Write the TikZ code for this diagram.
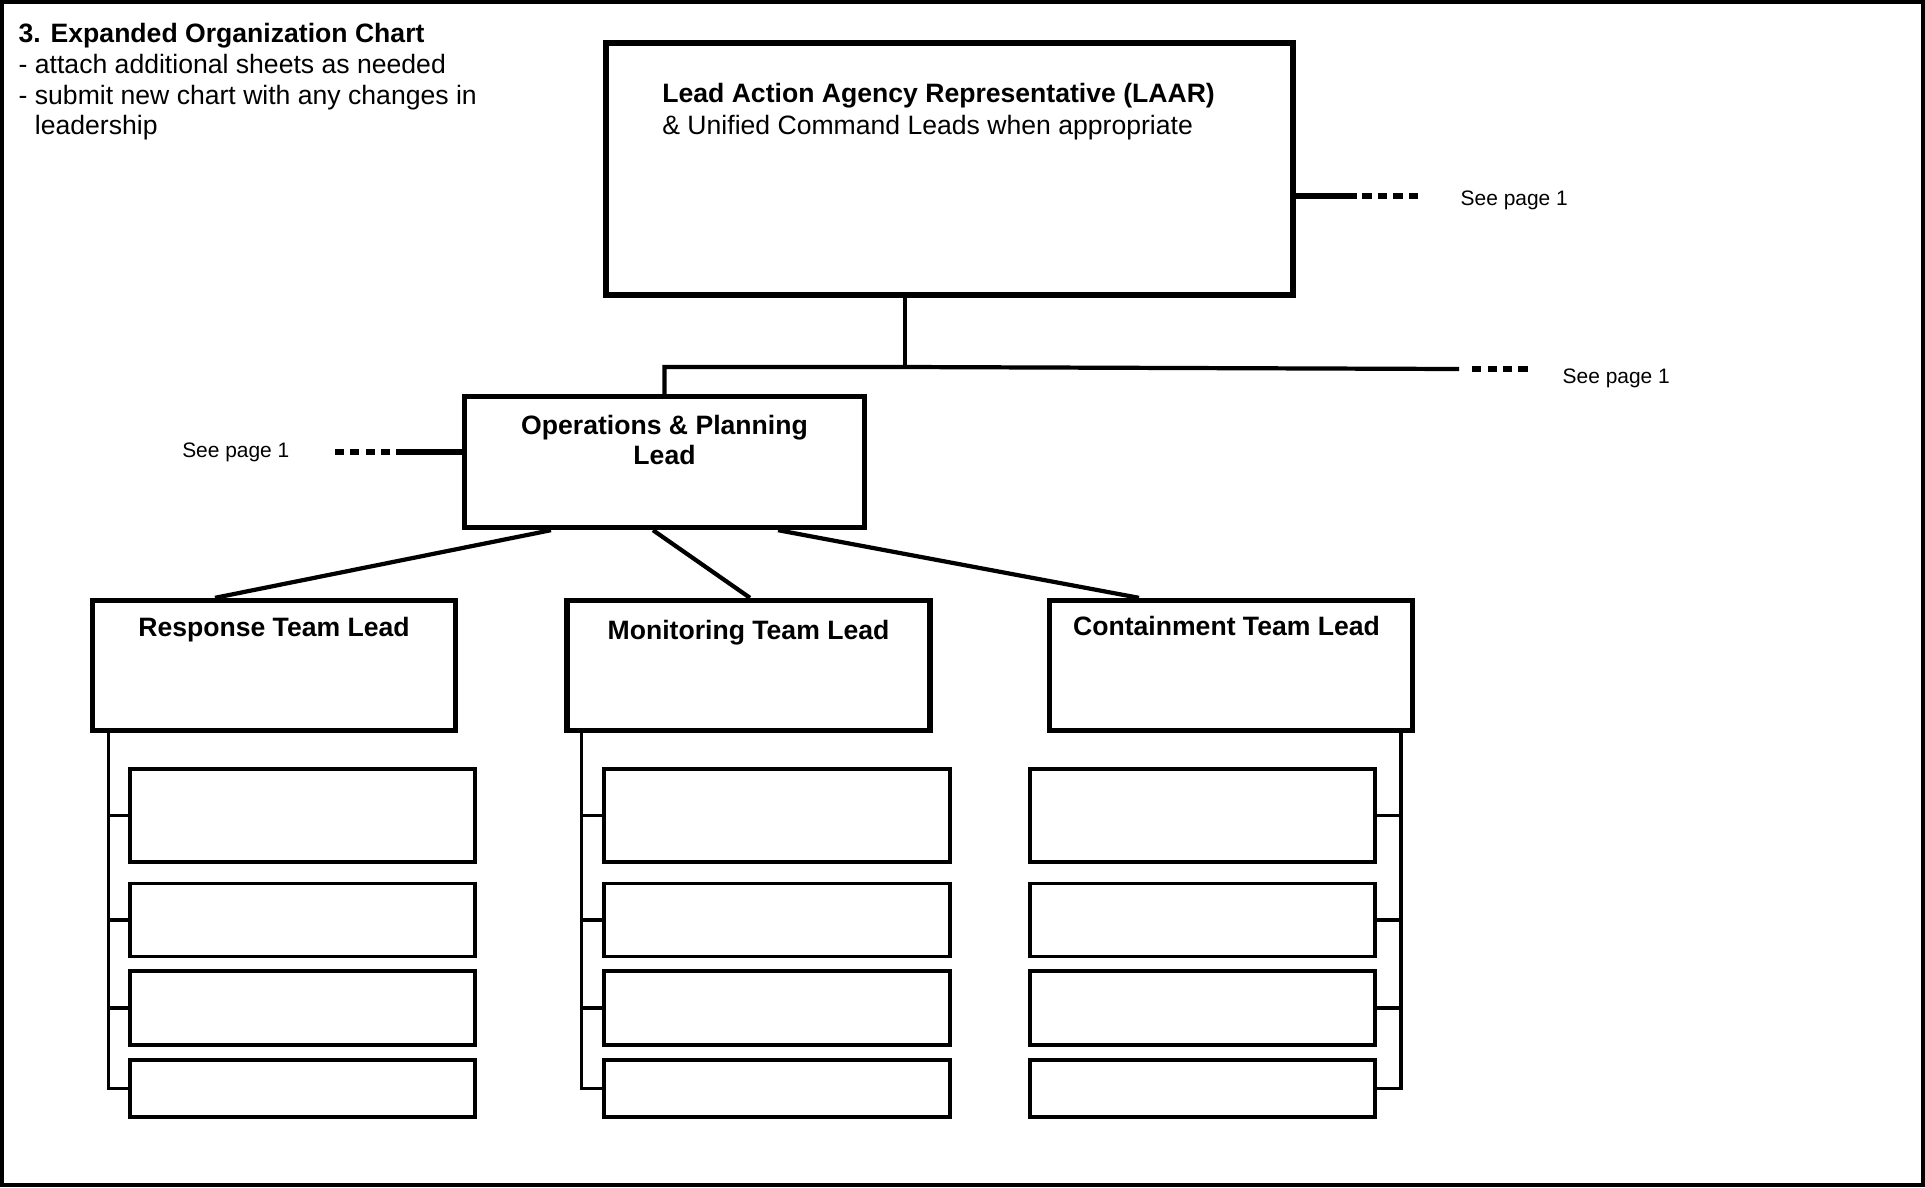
\documentclass[tikz,border=0pt]{standalone}
\usepackage{fontspec}
\setmainfont{Liberation Sans}
\usetikzlibrary{positioning, calc}

\begin{document}
\begin{tikzpicture}[
      x=0.01cm, y=-0.01cm,
      every node/.style={inner sep=0pt, font=\fontsize{7.56}{8.7}\selectfont},
      topbox/.style={draw, line width=1.8pt},
      leadbox/.style={draw, line width=1.5pt, minimum width=3.63cm, minimum height=1.30cm},
      subbox/.style={draw, line width=1.1pt, minimum width=3.455cm},
      conn/.style={line width=1.2pt},
      spine/.style={line width=1.0pt},
      dotline/.style={line width=1.7pt, dash pattern=on 2.6pt off 1.8pt},
      seetxt/.style={font=\fontsize{5.95}{7}\selectfont}
    ]
      \useasboundingbox (0,0) rectangle (1925,1187);
      \draw[line width=1.1pt] (2,2) rectangle (1923,1185);

      \node[anchor=north west, align=left] (title) at (18,23) {%
        \textbf{3. Expanded Organization Chart}\\
        - attach additional sheets as needed\\
        - submit new chart with any changes in\\
        \phantom{- }leadership};

      \node[topbox, minimum width=6.87cm, minimum height=2.515cm] (laar) at (949.5,169) {};
      \node[anchor=north west, align=left, font=\fontsize{7.56}{9.1}\selectfont] (laartxt)
        at ([xshift=0.59cm, yshift=-0.425cm]laar.north west)
        {\textbf{Lead Action Agency Representative (LAAR)}\\
         \& Unified Command Leads when appropriate};

      \node[topbox, line width=1.5pt, minimum width=4.0cm, minimum height=1.31cm] (ops) at (664.5,462) {};
      \node[anchor=north, align=center] (opstxt) at ([yshift=-0.205cm]ops.north)
        {\textbf{Operations \& Planning}\\ \textbf{Lead}};

      \node[leadbox] (resp) at (274,665.5) {};
      \node[leadbox] (mon) at (748.5,665.5) {};
      \node[leadbox] (cont) at (1231,665.5) {};
      \node[anchor=north] (resptxt) at ([yshift=-0.185cm]resp.north) {\textbf{Response Team Lead}};
      \node[anchor=north] (montxt) at ([yshift=-0.215cm]mon.north) {\textbf{Monitoring Team Lead}};
      \node[anchor=north] (conttxt) at ([xshift=-0.045cm, yshift=-0.175cm]cont.north) {\textbf{Containment Team Lead}};

      \node[subbox, minimum height=0.93cm] (r1) at (302.5,815.5) {};
      \node[subbox, minimum height=0.73cm] (r2) at (302.5,920) {};
      \node[subbox, minimum height=0.74cm] (r3) at (302.5,1008) {};
      \node[subbox, minimum height=0.57cm] (r4) at (302.5,1088.5) {};
      \node[subbox, minimum height=0.93cm] (m1) at (777,815.5) {};
      \node[subbox, minimum height=0.73cm] (m2) at (777,920) {};
      \node[subbox, minimum height=0.74cm] (m3) at (777,1008) {};
      \node[subbox, minimum height=0.57cm] (m4) at (777,1088.5) {};
      \node[subbox, minimum height=0.93cm] (c1) at (1202.5,815.5) {};
      \node[subbox, minimum height=0.73cm] (c2) at (1202.5,920) {};
      \node[subbox, minimum height=0.74cm] (c3) at (1202.5,1008) {};
      \node[subbox, minimum height=0.57cm] (c4) at (1202.5,1088.5) {};

      \node[seetxt, anchor=west] (see1) at (1460,200) {See page 1};
      \node[seetxt, anchor=west] (see2) at (1562,378) {See page 1};
      \node[seetxt, anchor=east] (see3) at (290,452) {See page 1};

      \draw[line width=1.9pt] ([yshift=-0.27cm]laar.east) -- ++(0.61cm,0) coordinate (lr);
      \draw[dotline] ([xshift=0.05cm]lr) -- ++(0.555cm,0);

      \coordinate (bus) at (905,367);
      \coordinate (busend) at (1459,369);
      \draw[line width=1.4pt] (laar.south -| bus) -- (bus);
      \draw[conn] (ops.north) |- (bus) -- (busend);
      \draw[dotline] ([xshift=0.13cm]busend) -- ++(0.555cm,0);

      \draw[line width=1.7pt] ([yshift=0.1cm]ops.west) -- ++(-0.655cm,0) coordinate (ol);
      \draw[dotline] ([xshift=-0.06cm]ol) -- ++(-0.555cm,0);

      \draw[conn] ([xshift=-1.135cm]ops.south) -- ([xshift=-0.59cm]resp.north);
      \draw[conn] ([xshift=-0.115cm]ops.south) -- ([xshift=0.015cm]mon.north);
      \draw[conn] ([xshift=1.135cm]ops.south) -- ([xshift=-0.92cm]cont.north);

      \coordinate (rsp) at ([xshift=0.185cm]resp.south west);
      \coordinate (msp) at ([xshift=0.17cm]mon.south west);
      \coordinate (csp) at ([xshift=-0.145cm]cont.south east);
      \draw[spine] (rsp) |- (r4.west);
      \draw[spine] (rsp |- r1.west) -- (r1.west);
      \draw[spine] (rsp |- r2.west) -- (r2.west);
      \draw[spine] (rsp |- r3.west) -- (r3.west);
      \draw[spine] (msp) |- (m4.west);
      \draw[spine] (msp |- m1.west) -- (m1.west);
      \draw[spine] (msp |- m2.west) -- (m2.west);
      \draw[spine] (msp |- m3.west) -- (m3.west);
      \draw[spine] (csp) |- (c4.east);
      \draw[spine] (csp |- c1.east) -- (c1.east);
      \draw[spine] (csp |- c2.east) -- (c2.east);
      \draw[spine] (csp |- c3.east) -- (c3.east);
    \end{tikzpicture}
\end{document}
